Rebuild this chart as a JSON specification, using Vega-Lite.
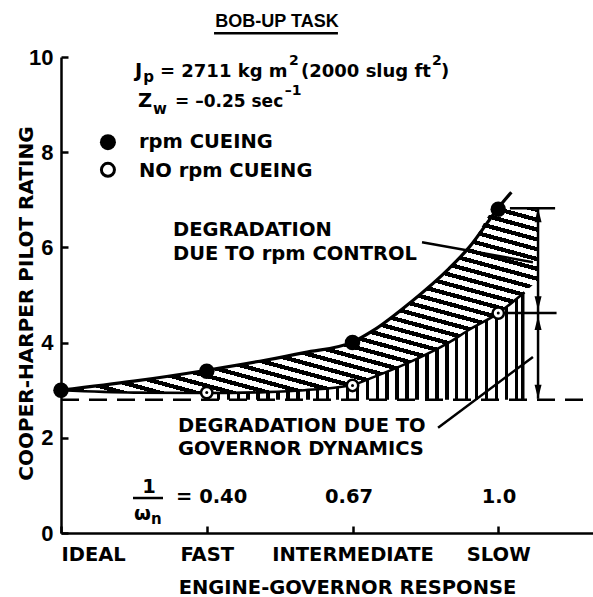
{
  "$schema": "https://vega.github.io/schema/vega-lite/v6.json",
  "width": 532,
  "height": 476,
  "padding": {"left": 61, "top": 57, "right": 0, "bottom": 64},
  "autosize": {"type": "none"},
  "background": "white",
  "config": {"view": {"stroke": null}, "axis": {"grid": false}},
  "datasets": {
    "upperArea": [
      {"x": 0, "top": 3.0, "bot": 3.0},
      {"x": 0.5, "top": 3.19, "bot": 2.95},
      {"x": 1.0, "top": 3.42, "bot": 2.94},
      {"x": 1.4, "top": 3.63, "bot": 2.96},
      {"x": 1.67, "top": 3.79, "bot": 3.0},
      {"x": 2.0, "top": 4.01, "bot": 3.11},
      {"x": 2.14, "top": 4.25, "bot": 3.27},
      {"x": 2.4, "top": 4.85, "bot": 3.6},
      {"x": 2.66, "top": 5.55, "bot": 4.0},
      {"x": 2.8, "top": 6.0, "bot": 4.27},
      {"x": 3.0, "top": 6.83, "bot": 4.62},
      {"x": 3.18, "top": 6.81, "bot": 5.06},
      {"x": 3.27, "top": 6.8, "bot": 5.3}
    ],
    "lowerArea": [
      {"x": 1.0, "top": 2.94},
      {"x": 1.4, "top": 2.96},
      {"x": 1.67, "top": 3.0},
      {"x": 2.0, "top": 3.11},
      {"x": 2.14, "top": 3.27},
      {"x": 2.4, "top": 3.6},
      {"x": 2.66, "top": 4.0},
      {"x": 2.8, "top": 4.27},
      {"x": 3.0, "top": 4.62},
      {"x": 3.18, "top": 5.06}
    ],
    "upperLine": [
      {"x": 0, "y": 3.0}, {"x": 0.5, "y": 3.19}, {"x": 1.0, "y": 3.42}, {"x": 1.4, "y": 3.63},
      {"x": 1.67, "y": 3.79}, {"x": 2.0, "y": 4.01}, {"x": 2.14, "y": 4.25}, {"x": 2.4, "y": 4.85},
      {"x": 2.66, "y": 5.55}, {"x": 2.8, "y": 6.0}, {"x": 3.0, "y": 6.83}, {"x": 3.09, "y": 7.16}
    ],
    "lowerLine": [
      {"x": 0, "y": 3.0}, {"x": 0.5, "y": 2.95}, {"x": 1.0, "y": 2.94}, {"x": 1.4, "y": 2.96},
      {"x": 1.67, "y": 3.0}, {"x": 2.0, "y": 3.11}, {"x": 2.14, "y": 3.27}, {"x": 2.4, "y": 3.6},
      {"x": 2.66, "y": 4.0}, {"x": 2.8, "y": 4.27}, {"x": 3.0, "y": 4.62}, {"x": 3.18, "y": 5.06}
    ],
    "baseline": [{"x": 0, "x2": 3.65, "y": 2.8}],
    "segments": [
      {"x": 3.08, "x2": 3.39, "y": 6.82, "y2": 6.82},
      {"x": 3.05, "x2": 3.40, "y": 4.62, "y2": 4.62},
      {"x": 3.273, "x2": 3.273, "y": 2.82, "y2": 6.82},
      {"x": 2.477, "x2": 3.238, "y": 6.11, "y2": 5.69},
      {"x": 2.587, "x2": 3.238, "y": 2.21, "y2": 3.70},
      {"x": 0.494, "x2": 0.70, "y": 0.735, "y2": 0.735},
      {"x": 1.05, "x2": 1.90, "y": 10.5, "y2": 10.5}
    ],
    "arrowsUp": [{"x": 3.273, "y": 6.82}, {"x": 3.273, "y": 4.56}],
    "arrowsDown": [{"x": 3.273, "y": 4.68}, {"x": 3.273, "y": 2.82}],
    "rpmCueing": [
      {"response": "IDEAL", "x": 0, "rating": 3.0},
      {"response": "FAST", "x": 1, "rating": 3.4},
      {"response": "INTERMEDIATE", "x": 2, "rating": 4.0},
      {"response": "SLOW", "x": 3, "rating": 6.8}
    ],
    "noRpmCueing": [
      {"response": "FAST", "x": 1, "rating": 2.95},
      {"response": "INTERMEDIATE", "x": 2, "rating": 3.1},
      {"response": "SLOW", "x": 3, "rating": 4.62}
    ],
    "legendFilled": [{"x": 0.322, "y": 8.21}],
    "legendOpen": [{"x": 0.322, "y": 7.63}],
    "textMain": [
      {"x": 0.535, "y": 8.09, "t": "rpm CUEING"},
      {"x": 0.535, "y": 7.48, "t": "NO rpm CUEING"},
      {"x": 0.768, "y": 6.24, "t": "DEGRADATION"},
      {"x": 0.768, "y": 5.74, "t": "DUE TO rpm CONTROL"},
      {"x": 0.803, "y": 2.12, "t": "DEGRADATION DUE TO"},
      {"x": 0.803, "y": 1.64, "t": "GOVERNOR DYNAMICS"},
      {"x": 0.508, "y": 9.58, "t": "J"},
      {"x": 0.528, "y": 8.95, "t": "Z"},
      {"x": 0.789, "y": 0.63, "t": "= 0.40"},
      {"x": 0.50, "y": 0.27, "t": "ω"}
    ],
    "textCenter": [
      {"x": 1.976, "y": 0.63, "t": "0.67"},
      {"x": 3.005, "y": 0.63, "t": "1.0"},
      {"x": 0.604, "y": 0.84, "t": "1"}
    ],
    "textMed": [
      {"x": 0.679, "y": 9.58, "t": "= 2711 kg m"},
      {"x": 1.647, "y": 9.58, "t": "(2000 slug ft"},
      {"x": 2.607, "y": 9.58, "t": ")"}
    ],
    "textSmallMed": [
      {"x": 0.782, "y": 8.95, "t": "= –0.25 sec"}
    ],
    "textSub": [
      {"x": 0.565, "y": 9.47, "t": "p"},
      {"x": 0.631, "y": 8.80, "t": "w"},
      {"x": 0.617, "y": 0.19, "t": "n"}
    ],
    "textSup": [
      {"x": 1.565, "y": 9.83, "t": "2"},
      {"x": 2.545, "y": 9.83, "t": "2"},
      {"x": 1.535, "y": 9.20, "t": "–1"}
    ],
    "titleText": [{"x": 1.482, "y": 10.63, "t": "BOB-UP TASK"}]
  },
  "layer": [
    {
      "data": {"name": "upperArea"},
      "mark": {
        "type": "area", "interpolate": "monotone",
        "fill": {
          "gradient": "linear", "x1": 1, "y1": 0, "x2": 0.2045, "y2": 1.143,
          "stops": [
            {"offset": 0, "color": "#000"}, {"offset": 0.014, "color": "#000"}, {"offset": 0.014, "color": "#fff"}, {"offset": 0.03125, "color": "#fff"},
            {"offset": 0.03125, "color": "#000"}, {"offset": 0.04525, "color": "#000"}, {"offset": 0.04525, "color": "#fff"}, {"offset": 0.0625, "color": "#fff"},
            {"offset": 0.0625, "color": "#000"}, {"offset": 0.0765, "color": "#000"}, {"offset": 0.0765, "color": "#fff"}, {"offset": 0.09375, "color": "#fff"},
            {"offset": 0.09375, "color": "#000"}, {"offset": 0.10775, "color": "#000"}, {"offset": 0.10775, "color": "#fff"}, {"offset": 0.125, "color": "#fff"},
            {"offset": 0.125, "color": "#000"}, {"offset": 0.139, "color": "#000"}, {"offset": 0.139, "color": "#fff"}, {"offset": 0.15625, "color": "#fff"},
            {"offset": 0.15625, "color": "#000"}, {"offset": 0.17025, "color": "#000"}, {"offset": 0.17025, "color": "#fff"}, {"offset": 0.1875, "color": "#fff"},
            {"offset": 0.1875, "color": "#000"}, {"offset": 0.2015, "color": "#000"}, {"offset": 0.2015, "color": "#fff"}, {"offset": 0.21875, "color": "#fff"},
            {"offset": 0.21875, "color": "#000"}, {"offset": 0.23275, "color": "#000"}, {"offset": 0.23275, "color": "#fff"}, {"offset": 0.25, "color": "#fff"},
            {"offset": 0.25, "color": "#000"}, {"offset": 0.264, "color": "#000"}, {"offset": 0.264, "color": "#fff"}, {"offset": 0.28125, "color": "#fff"},
            {"offset": 0.28125, "color": "#000"}, {"offset": 0.29525, "color": "#000"}, {"offset": 0.29525, "color": "#fff"}, {"offset": 0.3125, "color": "#fff"},
            {"offset": 0.3125, "color": "#000"}, {"offset": 0.3265, "color": "#000"}, {"offset": 0.3265, "color": "#fff"}, {"offset": 0.34375, "color": "#fff"},
            {"offset": 0.34375, "color": "#000"}, {"offset": 0.35775, "color": "#000"}, {"offset": 0.35775, "color": "#fff"}, {"offset": 0.375, "color": "#fff"},
            {"offset": 0.375, "color": "#000"}, {"offset": 0.389, "color": "#000"}, {"offset": 0.389, "color": "#fff"}, {"offset": 0.40625, "color": "#fff"},
            {"offset": 0.40625, "color": "#000"}, {"offset": 0.42025, "color": "#000"}, {"offset": 0.42025, "color": "#fff"}, {"offset": 0.4375, "color": "#fff"},
            {"offset": 0.4375, "color": "#000"}, {"offset": 0.4515, "color": "#000"}, {"offset": 0.4515, "color": "#fff"}, {"offset": 0.46875, "color": "#fff"},
            {"offset": 0.46875, "color": "#000"}, {"offset": 0.48275, "color": "#000"}, {"offset": 0.48275, "color": "#fff"}, {"offset": 0.5, "color": "#fff"},
            {"offset": 0.5, "color": "#000"}, {"offset": 0.514, "color": "#000"}, {"offset": 0.514, "color": "#fff"}, {"offset": 0.53125, "color": "#fff"},
            {"offset": 0.53125, "color": "#000"}, {"offset": 0.54525, "color": "#000"}, {"offset": 0.54525, "color": "#fff"}, {"offset": 0.5625, "color": "#fff"},
            {"offset": 0.5625, "color": "#000"}, {"offset": 0.5765, "color": "#000"}, {"offset": 0.5765, "color": "#fff"}, {"offset": 0.59375, "color": "#fff"},
            {"offset": 0.59375, "color": "#000"}, {"offset": 0.60775, "color": "#000"}, {"offset": 0.60775, "color": "#fff"}, {"offset": 0.625, "color": "#fff"},
            {"offset": 0.625, "color": "#000"}, {"offset": 0.639, "color": "#000"}, {"offset": 0.639, "color": "#fff"}, {"offset": 0.65625, "color": "#fff"},
            {"offset": 0.65625, "color": "#000"}, {"offset": 0.67025, "color": "#000"}, {"offset": 0.67025, "color": "#fff"}, {"offset": 0.6875, "color": "#fff"},
            {"offset": 0.6875, "color": "#000"}, {"offset": 0.7015, "color": "#000"}, {"offset": 0.7015, "color": "#fff"}, {"offset": 0.71875, "color": "#fff"},
            {"offset": 0.71875, "color": "#000"}, {"offset": 0.73275, "color": "#000"}, {"offset": 0.73275, "color": "#fff"}, {"offset": 0.75, "color": "#fff"},
            {"offset": 0.75, "color": "#000"}, {"offset": 0.764, "color": "#000"}, {"offset": 0.764, "color": "#fff"}, {"offset": 0.78125, "color": "#fff"},
            {"offset": 0.78125, "color": "#000"}, {"offset": 0.79525, "color": "#000"}, {"offset": 0.79525, "color": "#fff"}, {"offset": 0.8125, "color": "#fff"},
            {"offset": 0.8125, "color": "#000"}, {"offset": 0.8265, "color": "#000"}, {"offset": 0.8265, "color": "#fff"}, {"offset": 0.84375, "color": "#fff"},
            {"offset": 0.84375, "color": "#000"}, {"offset": 0.85775, "color": "#000"}, {"offset": 0.85775, "color": "#fff"}, {"offset": 0.875, "color": "#fff"},
            {"offset": 0.875, "color": "#000"}, {"offset": 0.889, "color": "#000"}, {"offset": 0.889, "color": "#fff"}, {"offset": 0.90625, "color": "#fff"},
            {"offset": 0.90625, "color": "#000"}, {"offset": 0.92025, "color": "#000"}, {"offset": 0.92025, "color": "#fff"}, {"offset": 0.9375, "color": "#fff"},
            {"offset": 0.9375, "color": "#000"}, {"offset": 0.9515, "color": "#000"}, {"offset": 0.9515, "color": "#fff"}, {"offset": 0.96875, "color": "#fff"},
            {"offset": 0.96875, "color": "#000"}, {"offset": 0.98275, "color": "#000"}, {"offset": 0.98275, "color": "#fff"}, {"offset": 1, "color": "#fff"}
          ]
        }
      },
      "encoding": {
        "x": {
          "field": "x", "type": "quantitative",
          "scale": {"domain": [0, 3.65], "nice": false, "zero": false},
          "axis": {
            "values": [0, 1, 2, 3],
            "labelExpr": "['IDEAL','FAST','INTERMEDIATE','SLOW'][datum.value]",
            "labelFlush": true,
            "tickSize": -7, "tickWidth": 2.5, "tickColor": "black",
            "domainColor": "black", "domainWidth": 2.5,
            "labelFont": "DejaVu Sans", "labelFontWeight": "bold", "labelFontSize": 19.5, "labelColor": "black",
            "labelPadding": 34, "labelBaseline": "alphabetic",
            "title": "ENGINE-GOVERNOR RESPONSE",
            "titleFont": "DejaVu Sans", "titleFontWeight": "bold", "titleFontSize": 19.5, "titleColor": "black",
            "titleX": 286, "titleY": 60, "titleBaseline": "alphabetic", "titleAlign": "center"
          }
        },
        "y": {
          "field": "top", "type": "quantitative",
          "scale": {"domain": [0, 10], "nice": false, "zero": false},
          "axis": {
            "values": [0, 2, 4, 6, 8, 10],
            "tickSize": -7, "tickWidth": 2.5, "tickColor": "black",
            "domainColor": "black", "domainWidth": 2.5,
            "labelFont": "Liberation Sans", "labelFontWeight": "bold", "labelFontSize": 22, "labelColor": "black",
            "labelPadding": 15,
            "title": "COOPER-HARPER PILOT RATING",
            "titleFont": "DejaVu Sans", "titleFontWeight": "bold", "titleFontSize": 20, "titleColor": "black",
            "titleX": -29, "titleY": 246, "titleBaseline": "alphabetic", "titleAlign": "center", "titleAngle": -90
          }
        },
        "y2": {"field": "bot"}
      }
    },
    {
      "data": {"name": "lowerArea"},
      "mark": {
        "type": "area", "interpolate": "monotone",
        "fill": {
          "gradient": "linear", "x1": 0, "y1": 0, "x2": 1, "y2": 0,
          "stops": [
            {"offset": 0, "color": "#000"}, {"offset": 0.011, "color": "#000"}, {"offset": 0.011, "color": "#fff"}, {"offset": 0.03125, "color": "#fff"},
            {"offset": 0.03125, "color": "#000"}, {"offset": 0.04225, "color": "#000"}, {"offset": 0.04225, "color": "#fff"}, {"offset": 0.0625, "color": "#fff"},
            {"offset": 0.0625, "color": "#000"}, {"offset": 0.0735, "color": "#000"}, {"offset": 0.0735, "color": "#fff"}, {"offset": 0.09375, "color": "#fff"},
            {"offset": 0.09375, "color": "#000"}, {"offset": 0.10475, "color": "#000"}, {"offset": 0.10475, "color": "#fff"}, {"offset": 0.125, "color": "#fff"},
            {"offset": 0.125, "color": "#000"}, {"offset": 0.136, "color": "#000"}, {"offset": 0.136, "color": "#fff"}, {"offset": 0.15625, "color": "#fff"},
            {"offset": 0.15625, "color": "#000"}, {"offset": 0.16725, "color": "#000"}, {"offset": 0.16725, "color": "#fff"}, {"offset": 0.1875, "color": "#fff"},
            {"offset": 0.1875, "color": "#000"}, {"offset": 0.1985, "color": "#000"}, {"offset": 0.1985, "color": "#fff"}, {"offset": 0.21875, "color": "#fff"},
            {"offset": 0.21875, "color": "#000"}, {"offset": 0.22975, "color": "#000"}, {"offset": 0.22975, "color": "#fff"}, {"offset": 0.25, "color": "#fff"},
            {"offset": 0.25, "color": "#000"}, {"offset": 0.261, "color": "#000"}, {"offset": 0.261, "color": "#fff"}, {"offset": 0.28125, "color": "#fff"},
            {"offset": 0.28125, "color": "#000"}, {"offset": 0.29225, "color": "#000"}, {"offset": 0.29225, "color": "#fff"}, {"offset": 0.3125, "color": "#fff"},
            {"offset": 0.3125, "color": "#000"}, {"offset": 0.3235, "color": "#000"}, {"offset": 0.3235, "color": "#fff"}, {"offset": 0.34375, "color": "#fff"},
            {"offset": 0.34375, "color": "#000"}, {"offset": 0.35475, "color": "#000"}, {"offset": 0.35475, "color": "#fff"}, {"offset": 0.375, "color": "#fff"},
            {"offset": 0.375, "color": "#000"}, {"offset": 0.386, "color": "#000"}, {"offset": 0.386, "color": "#fff"}, {"offset": 0.40625, "color": "#fff"},
            {"offset": 0.40625, "color": "#000"}, {"offset": 0.41725, "color": "#000"}, {"offset": 0.41725, "color": "#fff"}, {"offset": 0.4375, "color": "#fff"},
            {"offset": 0.4375, "color": "#000"}, {"offset": 0.4485, "color": "#000"}, {"offset": 0.4485, "color": "#fff"}, {"offset": 0.46875, "color": "#fff"},
            {"offset": 0.46875, "color": "#000"}, {"offset": 0.47975, "color": "#000"}, {"offset": 0.47975, "color": "#fff"}, {"offset": 0.5, "color": "#fff"},
            {"offset": 0.5, "color": "#000"}, {"offset": 0.511, "color": "#000"}, {"offset": 0.511, "color": "#fff"}, {"offset": 0.53125, "color": "#fff"},
            {"offset": 0.53125, "color": "#000"}, {"offset": 0.54225, "color": "#000"}, {"offset": 0.54225, "color": "#fff"}, {"offset": 0.5625, "color": "#fff"},
            {"offset": 0.5625, "color": "#000"}, {"offset": 0.5735, "color": "#000"}, {"offset": 0.5735, "color": "#fff"}, {"offset": 0.59375, "color": "#fff"},
            {"offset": 0.59375, "color": "#000"}, {"offset": 0.60475, "color": "#000"}, {"offset": 0.60475, "color": "#fff"}, {"offset": 0.625, "color": "#fff"},
            {"offset": 0.625, "color": "#000"}, {"offset": 0.636, "color": "#000"}, {"offset": 0.636, "color": "#fff"}, {"offset": 0.65625, "color": "#fff"},
            {"offset": 0.65625, "color": "#000"}, {"offset": 0.66725, "color": "#000"}, {"offset": 0.66725, "color": "#fff"}, {"offset": 0.6875, "color": "#fff"},
            {"offset": 0.6875, "color": "#000"}, {"offset": 0.6985, "color": "#000"}, {"offset": 0.6985, "color": "#fff"}, {"offset": 0.71875, "color": "#fff"},
            {"offset": 0.71875, "color": "#000"}, {"offset": 0.72975, "color": "#000"}, {"offset": 0.72975, "color": "#fff"}, {"offset": 0.75, "color": "#fff"},
            {"offset": 0.75, "color": "#000"}, {"offset": 0.761, "color": "#000"}, {"offset": 0.761, "color": "#fff"}, {"offset": 0.78125, "color": "#fff"},
            {"offset": 0.78125, "color": "#000"}, {"offset": 0.79225, "color": "#000"}, {"offset": 0.79225, "color": "#fff"}, {"offset": 0.8125, "color": "#fff"},
            {"offset": 0.8125, "color": "#000"}, {"offset": 0.8235, "color": "#000"}, {"offset": 0.8235, "color": "#fff"}, {"offset": 0.84375, "color": "#fff"},
            {"offset": 0.84375, "color": "#000"}, {"offset": 0.85475, "color": "#000"}, {"offset": 0.85475, "color": "#fff"}, {"offset": 0.875, "color": "#fff"},
            {"offset": 0.875, "color": "#000"}, {"offset": 0.886, "color": "#000"}, {"offset": 0.886, "color": "#fff"}, {"offset": 0.90625, "color": "#fff"},
            {"offset": 0.90625, "color": "#000"}, {"offset": 0.91725, "color": "#000"}, {"offset": 0.91725, "color": "#fff"}, {"offset": 0.9375, "color": "#fff"},
            {"offset": 0.9375, "color": "#000"}, {"offset": 0.9485, "color": "#000"}, {"offset": 0.9485, "color": "#fff"}, {"offset": 0.96875, "color": "#fff"},
            {"offset": 0.96875, "color": "#000"}, {"offset": 0.97975, "color": "#000"}, {"offset": 0.97975, "color": "#fff"}, {"offset": 0.989, "color": "#fff"},
            {"offset": 0.989, "color": "#000"}, {"offset": 1, "color": "#000"}
          ]
        }
      },
      "encoding": {
        "x": {"field": "x", "type": "quantitative"},
        "y": {"field": "top", "type": "quantitative"},
        "y2": {"datum": 2.8}
      }
    },
    {
      "data": {"name": "baseline"},
      "mark": {"type": "rule", "color": "black", "strokeWidth": 2.5, "strokeDash": [18, 10]},
      "encoding": {
        "x": {"field": "x", "type": "quantitative"},
        "x2": {"field": "x2"},
        "y": {"field": "y", "type": "quantitative"}
      }
    },
    {
      "data": {"name": "upperLine"},
      "mark": {"type": "line", "interpolate": "monotone", "color": "black", "strokeWidth": 3.2},
      "encoding": {
        "x": {"field": "x", "type": "quantitative"},
        "y": {"field": "y", "type": "quantitative"}
      }
    },
    {
      "data": {"name": "lowerLine"},
      "mark": {"type": "line", "interpolate": "monotone", "color": "black", "strokeWidth": 2.6},
      "encoding": {
        "x": {"field": "x", "type": "quantitative"},
        "y": {"field": "y", "type": "quantitative"}
      }
    },
    {
      "data": {"name": "segments"},
      "mark": {"type": "rule", "color": "black", "strokeWidth": 2.5},
      "encoding": {
        "x": {"field": "x", "type": "quantitative"},
        "x2": {"field": "x2"},
        "y": {"field": "y", "type": "quantitative"},
        "y2": {"field": "y2"}
      }
    },
    {
      "data": {"name": "arrowsUp"},
      "mark": {"type": "point", "shape": "M0,0L0.5,2L-0.5,2Z", "filled": true, "color": "black", "opacity": 1, "size": 196},
      "encoding": {
        "x": {"field": "x", "type": "quantitative"},
        "y": {"field": "y", "type": "quantitative"}
      }
    },
    {
      "data": {"name": "arrowsDown"},
      "mark": {"type": "point", "shape": "M0,0L0.5,-2L-0.5,-2Z", "filled": true, "color": "black", "opacity": 1, "size": 196},
      "encoding": {
        "x": {"field": "x", "type": "quantitative"},
        "y": {"field": "y", "type": "quantitative"}
      }
    },
    {
      "data": {"name": "rpmCueing"},
      "mark": {"type": "point", "shape": "circle", "filled": true, "color": "black", "opacity": 1, "size": 240},
      "encoding": {
        "x": {"field": "x", "type": "quantitative"},
        "y": {"field": "rating", "type": "quantitative"}
      }
    },
    {
      "data": {"name": "noRpmCueing"},
      "mark": {"type": "point", "shape": "circle", "fill": "white", "stroke": "black", "strokeWidth": 2.5, "opacity": 1, "fillOpacity": 1, "size": 130},
      "encoding": {
        "x": {"field": "x", "type": "quantitative"},
        "y": {"field": "rating", "type": "quantitative"}
      }
    },
    {
      "data": {"name": "noRpmCueing"},
      "mark": {"type": "point", "shape": "circle", "filled": true, "color": "black", "opacity": 1, "size": 9},
      "encoding": {
        "x": {"field": "x", "type": "quantitative"},
        "y": {"field": "rating", "type": "quantitative"}
      }
    },
    {
      "data": {"name": "legendFilled"},
      "mark": {"type": "point", "shape": "circle", "filled": true, "color": "black", "opacity": 1, "size": 256},
      "encoding": {
        "x": {"field": "x", "type": "quantitative"},
        "y": {"field": "y", "type": "quantitative"}
      }
    },
    {
      "data": {"name": "legendOpen"},
      "mark": {"type": "point", "shape": "circle", "fill": "white", "stroke": "black", "strokeWidth": 3, "opacity": 1, "fillOpacity": 1, "size": 170},
      "encoding": {
        "x": {"field": "x", "type": "quantitative"},
        "y": {"field": "y", "type": "quantitative"}
      }
    },
    {
      "data": {"name": "textMain"},
      "mark": {"type": "text", "align": "left", "baseline": "alphabetic", "font": "DejaVu Sans", "fontWeight": "bold", "fontSize": 19.5, "color": "black"},
      "encoding": {
        "x": {"field": "x", "type": "quantitative"},
        "y": {"field": "y", "type": "quantitative"},
        "text": {"field": "t"}
      }
    },
    {
      "data": {"name": "textCenter"},
      "mark": {"type": "text", "align": "center", "baseline": "alphabetic", "font": "DejaVu Sans", "fontWeight": "bold", "fontSize": 19.5, "color": "black"},
      "encoding": {
        "x": {"field": "x", "type": "quantitative"},
        "y": {"field": "y", "type": "quantitative"},
        "text": {"field": "t"}
      }
    },
    {
      "data": {"name": "textMed"},
      "mark": {"type": "text", "align": "left", "baseline": "alphabetic", "font": "DejaVu Sans", "fontWeight": "bold", "fontSize": 18, "color": "black"},
      "encoding": {
        "x": {"field": "x", "type": "quantitative"},
        "y": {"field": "y", "type": "quantitative"},
        "text": {"field": "t"}
      }
    },
    {
      "data": {"name": "textSmallMed"},
      "mark": {"type": "text", "align": "left", "baseline": "alphabetic", "font": "DejaVu Sans", "fontWeight": "bold", "fontSize": 17, "color": "black"},
      "encoding": {
        "x": {"field": "x", "type": "quantitative"},
        "y": {"field": "y", "type": "quantitative"},
        "text": {"field": "t"}
      }
    },
    {
      "data": {"name": "textSub"},
      "mark": {"type": "text", "align": "left", "baseline": "alphabetic", "font": "DejaVu Sans", "fontWeight": "bold", "fontSize": 15, "color": "black"},
      "encoding": {
        "x": {"field": "x", "type": "quantitative"},
        "y": {"field": "y", "type": "quantitative"},
        "text": {"field": "t"}
      }
    },
    {
      "data": {"name": "textSup"},
      "mark": {"type": "text", "align": "left", "baseline": "alphabetic", "font": "DejaVu Sans", "fontWeight": "bold", "fontSize": 14, "color": "black"},
      "encoding": {
        "x": {"field": "x", "type": "quantitative"},
        "y": {"field": "y", "type": "quantitative"},
        "text": {"field": "t"}
      }
    },
    {
      "data": {"name": "titleText"},
      "mark": {"type": "text", "align": "center", "baseline": "alphabetic", "font": "Liberation Sans", "fontWeight": "bold", "fontSize": 18, "color": "black"},
      "encoding": {
        "x": {"field": "x", "type": "quantitative"},
        "y": {"field": "y", "type": "quantitative"},
        "text": {"field": "t"}
      }
    }
  ]
}
